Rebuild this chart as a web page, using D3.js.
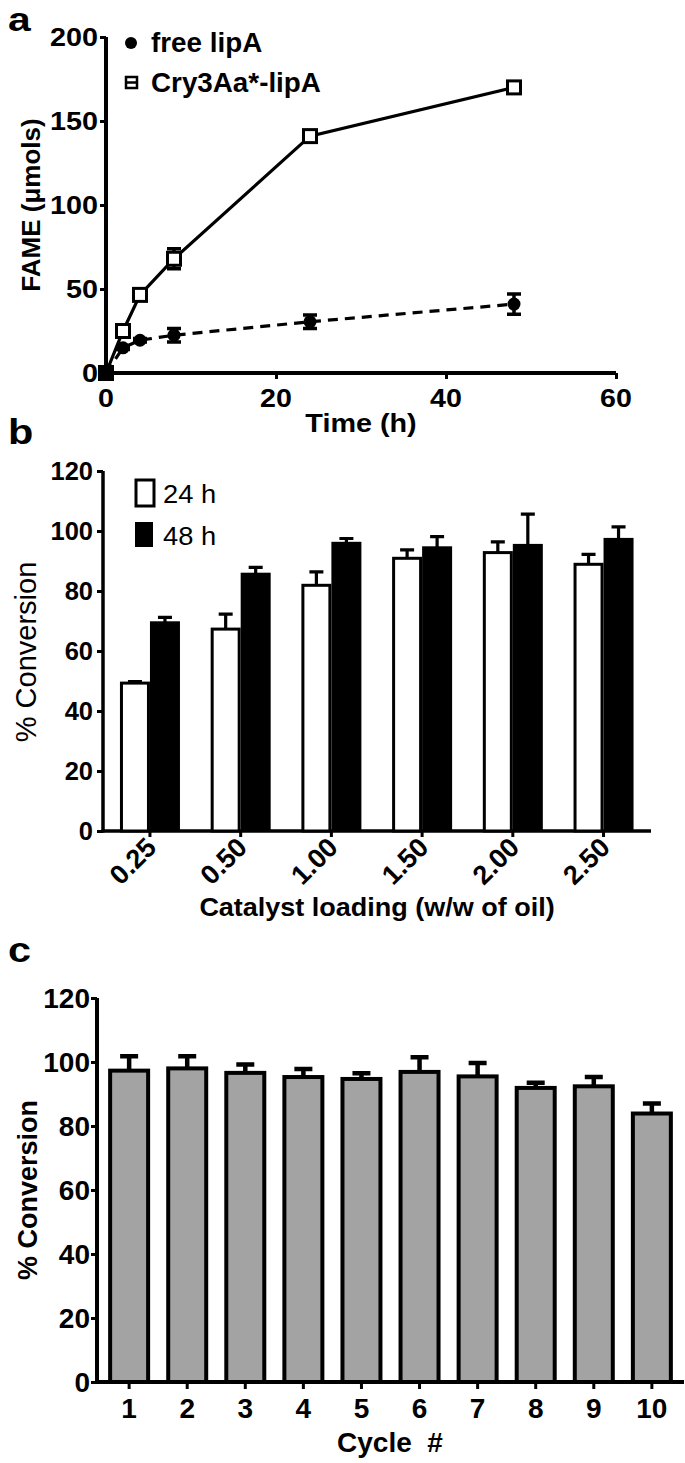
<!DOCTYPE html>
<html>
<head>
<meta charset="utf-8">
<script src="https://cdn.jsdelivr.net/npm/d3@7"></script>
<style>
  html, body { margin: 0; padding: 0; background: #fff; }
  svg { display: block; }
  text { font-family: "Liberation Sans", Arial, sans-serif; fill: #000; }
</style>
</head>
<body>
<svg id="fig" width="685" height="1463"></svg>
<script>
// ---------- DATA ----------
// Panel a
const timeH = [0, 2, 4, 8, 24, 48];
const freeLipA = [0, 15, 19.5, 22.5, 30.5, 41];
const freeLipAErr = [0, 1, 1, 4, 4, 6];
const cryLipA = [0, 25, 46.5, 68, 141, 170];
const cryLipAErr = [0, 1.5, 2, 6, 3, 3];
const aXTicks = [0, 20, 40, 60];
const aYTicks = [0, 50, 100, 150, 200];

// Panel b
const loadings = ["0.25", "0.50", "1.00", "1.50", "2.00", "2.50"];
const conv24 = [49.3, 67.3, 81.9, 90.9, 92.8, 88.9];
const conv24Err = [0.5, 5, 4.5, 2.8, 3.6, 3.3];
const conv48 = [69.4, 85.6, 95.9, 94.4, 95.2, 97.2];
const conv48Err = [1.8, 2.3, 1.6, 3.7, 10.4, 4.2];
const bYTicks = [0, 20, 40, 60, 80, 100, 120];

// Panel c
const cycles = ["1", "2", "3", "4", "5", "6", "7", "8", "9", "10"];
const cycleConv = [97.3, 98.0, 96.6, 95.3, 94.7, 96.9, 95.5, 91.9, 92.4, 83.9];
const cycleErr = [4.5, 3.8, 2.6, 2.5, 1.8, 4.6, 4.2, 1.6, 2.9, 3.1];
const cYTicks = [0, 20, 40, 60, 80, 100, 120];

// ---------- HELPERS ----------
const svg = d3.select("#fig");
function txt(g, x, y, s, opts) {
  opts = opts || {};
  const sx = opts.sx || 1;
  const rot = opts.rot || 0;
  return g.append("text")
    .attr("transform", `translate(${x},${y}) rotate(${rot}) scale(${sx},1)`)
    .attr("text-anchor", opts.anchor || "start")
    .attr("font-weight", opts.bold === false ? "normal" : "bold")
    .attr("font-size", opts.size || 24)
    .text(s);
}

// ---------- PANEL A ----------
{
  const g = svg.append("g");
  const x = d3.scaleLinear().domain([0, 60]).range([106, 616]);
  const y = d3.scaleLinear().domain([0, 200]).range([373, 37]);

  txt(g, 8, 31, "a", { size: 34, sx: 1.2 });

  const yAx = g.append("g").attr("transform", `translate(${x(0)},0)`)
    .call(d3.axisLeft(y).tickValues(aYTicks).tickSize(6).tickFormat(""));
  const xAx = g.append("g").attr("transform", `translate(0,${y(0)})`)
    .call(d3.axisBottom(x).tickValues(aXTicks).tickSize(6).tickFormat(""));
  [yAx, xAx].forEach(a => {
    a.select(".domain").attr("stroke-width", 4).attr("stroke", "#000");
    a.selectAll(".tick line").attr("stroke-width", 3).attr("stroke", "#000");
  });
  yAx.select(".domain").attr("d", `M0,${y(0)+2}V${y(200)}`);
  xAx.select(".domain").attr("d", `M${x(0)-2},0H${x(60)}`);
  aYTicks.forEach(v => txt(g, 98, y(v) + 9, String(v), { anchor: "end", size: 25, sx: 1.15 }));
  aXTicks.forEach(v => txt(g, x(v), 407, String(v), { anchor: "middle", size: 26, sx: 1.1 }));

  txt(g, 361, 432, "Time (h)", { anchor: "middle", size: 25, sx: 1.15 });
  txt(g, 40, 205, "FAME (\u03bcmols)", { anchor: "middle", size: 26, rot: -90 });

  const line = d3.line().x((d, i) => x(timeH[i])).y(d => y(d));
  g.append("path").datum(freeLipA).attr("d", line).attr("fill", "none")
    .attr("stroke", "#000").attr("stroke-width", 3.2).attr("stroke-dasharray", "10,7");
  g.append("path").datum(cryLipA).attr("d", line).attr("fill", "none")
    .attr("stroke", "#000").attr("stroke-width", 3.2);

  function errBars(vals, errs) {
    vals.forEach((v, i) => {
      if (!errs[i]) return;
      const cx = x(timeH[i]);
      g.append("path")
        .attr("d", `M${cx},${y(v - errs[i])}V${y(v + errs[i])}M${cx-7},${y(v + errs[i])}H${cx+7}M${cx-7},${y(v - errs[i])}H${cx+7}`)
        .attr("stroke", "#000").attr("stroke-width", 3.5).attr("fill", "none");
    });
  }
  errBars(freeLipA, freeLipAErr);
  errBars(cryLipA, cryLipAErr);

  g.selectAll("circle.free").data(freeLipA).enter().append("circle")
    .attr("cx", (d, i) => x(timeH[i])).attr("cy", d => y(d)).attr("r", 6.5).attr("fill", "#000");
  g.selectAll("rect.cry").data(cryLipA).enter().append("rect")
    .attr("x", (d, i) => x(timeH[i]) - 6.5).attr("y", d => y(d) - 6.5)
    .attr("width", 13).attr("height", 13)
    .attr("fill", (d, i) => i === 0 ? "#000" : "#fff")
    .attr("stroke", "#000").attr("stroke-width", 3);

  // legend
  g.append("circle").attr("cx", 131).attr("cy", 43).attr("r", 6).attr("fill", "#000");
  txt(g, 151, 52, "free lipA", { size: 27, sx: 1.03 });
  g.append("rect").attr("x", 126).attr("y", 77).attr("width", 11).attr("height", 11)
    .attr("fill", "#fff").attr("stroke", "#000").attr("stroke-width", 2.5);
  g.append("line").attr("x1", 126).attr("x2", 137).attr("y1", 82.5).attr("y2", 82.5)
    .attr("stroke", "#000").attr("stroke-width", 2.5);
  txt(g, 151, 92, "Cry3Aa*-lipA", { size: 27, sx: 1.03 });
}

// ---------- PANEL B ----------
{
  const g = svg.append("g");
  const x = d3.scaleBand().domain(loadings).range([104.6, 648.9]);
  const y = d3.scaleLinear().domain([0, 120]).range([831, 471]);
  const bw = 30;

  txt(g, 8, 444, "b", { size: 36, sx: 1.15 });

  const yAx = g.append("g").attr("transform", `translate(103,0)`)
    .call(d3.axisLeft(y).tickValues(bYTicks).tickSize(6).tickFormat(""));
  const xAx = g.append("g").attr("transform", `translate(0,${y(0)})`)
    .call(d3.axisBottom(x).tickSize(6).tickFormat(""));
  [yAx, xAx].forEach(a => {
    a.select(".domain").attr("stroke-width", 3.5).attr("stroke", "#000");
    a.selectAll(".tick line").attr("stroke-width", 3).attr("stroke", "#000");
  });
  yAx.select(".domain").attr("d", `M0,${y(0)+1.5}V${y(120)}`);
  xAx.select(".domain").attr("d", `M101.5,0H651`);

  bYTicks.forEach(v => txt(g, 93, y(v) + 9, String(v), { anchor: "end", size: 25, sx: 1.02 }));
  loadings.forEach(l => {
    const cx = x(l) + x.bandwidth() / 2;
    txt(g, cx + 8, 849, l, { anchor: "end", size: 27, rot: -45 });
  });
  txt(g, 377, 916, "Catalyst loading (w/w of oil)", { anchor: "middle", size: 25, sx: 1.08 });
  txt(g, 36, 652, "% Conversion", { anchor: "middle", size: 29, rot: -90, bold: false });

  loadings.forEach((l, i) => {
    const cx = x(l) + x.bandwidth() / 2;
    [[conv24, conv24Err, cx - bw / 2], [conv48, conv48Err, cx + bw / 2]].forEach(([v, e, ex]) => {
      g.append("path")
        .attr("d", `M${ex},${y(v[i])}V${y(v[i] + e[i])}M${ex-7},${y(v[i] + e[i])}H${ex+7}`)
        .attr("stroke", "#000").attr("stroke-width", 3.2).attr("fill", "none");
    });
    g.append("rect").attr("x", cx - bw + 1.5).attr("y", y(conv24[i]))
      .attr("width", bw - 3).attr("height", y(0) - y(conv24[i]))
      .attr("fill", "#fff").attr("stroke", "#000").attr("stroke-width", 3);
    g.append("rect").attr("x", cx).attr("y", y(conv48[i]) - 1.5)
      .attr("width", bw).attr("height", y(0) - y(conv48[i]) + 1.5)
      .attr("fill", "#000");
  });

  // legend
  g.append("rect").attr("x", 136).attr("y", 480).attr("width", 18).attr("height", 26)
    .attr("fill", "#fff").attr("stroke", "#000").attr("stroke-width", 3);
  g.append("rect").attr("x", 135).attr("y", 522).attr("width", 18).attr("height", 25).attr("fill", "#000");
  txt(g, 163, 503, "24 h", { size: 26, bold: false, sx: 1.05 });
  txt(g, 163, 545, "48 h", { size: 26, bold: false, sx: 1.05 });
}

// ---------- PANEL C ----------
{
  const g = svg.append("g");
  const x = d3.scaleBand().domain(cycles).range([100, 681]).paddingInner(0.277).paddingOuter(0.14);
  const y = d3.scaleLinear().domain([0, 120]).range([1382, 998]);

  txt(g, 8, 962, "c", { size: 36, sx: 1.15 });

  cycles.forEach((c, i) => {
    const cx = x(c) + x.bandwidth() / 2;
    const v = cycleConv[i], e = cycleErr[i];
    g.append("path")
      .attr("d", `M${cx},${y(v)}V${y(v + e)}M${cx-9},${y(v + e)}H${cx+9}`)
      .attr("stroke", "#000").attr("stroke-width", 4.5).attr("fill", "none");
    g.append("rect").attr("x", x(c) + 2).attr("y", y(v))
      .attr("width", x.bandwidth() - 4).attr("height", y(0) - y(v))
      .attr("fill", "#a3a3a3").attr("stroke", "#000").attr("stroke-width", 4);
  });

  const yAx = g.append("g").attr("transform", `translate(97,0)`)
    .call(d3.axisLeft(y).tickValues(cYTicks).tickSize(6).tickFormat(""));
  const xAx = g.append("g").attr("transform", `translate(0,${y(0)})`)
    .call(d3.axisBottom(x).tickSize(7).tickFormat(""));
  [yAx, xAx].forEach(a => {
    a.select(".domain").attr("stroke-width", 4).attr("stroke", "#000");
    a.selectAll(".tick line").attr("stroke-width", 3).attr("stroke", "#000");
  });
  yAx.select(".domain").attr("d", `M0,${y(0)+2}V${y(120)}`);
  xAx.select(".domain").attr("d", `M95,0H684`);

  cYTicks.forEach(v => txt(g, 90, y(v) + 10, String(v), { anchor: "end", size: 28 }));
  cycles.forEach(c => txt(g, x(c) + x.bandwidth() / 2, 1418, c, { anchor: "middle", size: 28 }));
  txt(g, 390, 1452, "Cycle\u00a0\u00a0#", { anchor: "middle", size: 28 });
  txt(g, 37, 1190, "% Conversion", { anchor: "middle", size: 27, rot: -90 });
}
</script>
</body>
</html>
